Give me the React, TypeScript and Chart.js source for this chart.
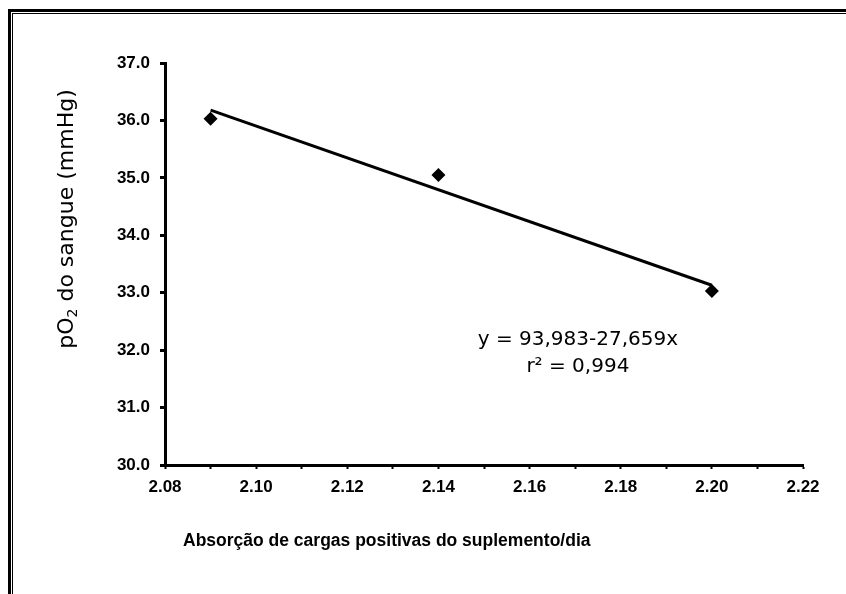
import { useEffect, useRef } from "react";
import { Chart, registerables } from "chart.js";

Chart.register(...registerables);

// ---- data ----
const absorption = [2.09, 2.14, 2.2];
const bloodPO2 = [36.03, 35.05, 33.03];
const trendX = [2.09, 2.2];
const trendY = [36.18, 33.13];

const xMin = 2.08;
const xMax = 2.22;
const xStep = 0.01;
const yMin = 30;
const yMax = 37;
const yStep = 1;

const yTitleParts = ["pO", "2", " do sangue (mmHg)"];
const xTitle = "Absorção de cargas positivas do suplemento/dia";
const equationLines = ["y = 93,983-27,659x", "r² = 0,994"];
const equationX = 2.1706;
const equationY = [32.09, 31.62];

const W = 846;
const H = 594;

const annotPlugin = {
  id: "annot",
  afterDraw(chart: any) {
    const { ctx, chartArea, scales } = chart;
    const xs = scales.x;
    const ys = scales.y;
    ctx.save();
    ctx.fillStyle = "#000";

    // regression equation
    ctx.font = "20px 'DejaVu Sans'";
    ctx.textAlign = "center";
    ctx.textBaseline = "alphabetic";
    const ex = xs.getPixelForValue(equationX);
    ctx.fillText(equationLines[0], ex, ys.getPixelForValue(equationY[0]));
    ctx.fillText(equationLines[1], ex, ys.getPixelForValue(equationY[1]));

    // x-axis title
    ctx.font = "bold 17.5px 'Liberation Sans'";
    ctx.textAlign = "left";
    ctx.fillText(xTitle, chartArea.left + 18, chartArea.bottom + 81);

    // y-axis title with subscript
    const mainFont = "22px 'DejaVu Sans'";
    const subFont = "14px 'DejaVu Sans'";
    ctx.font = mainFont;
    const w1 = ctx.measureText(yTitleParts[0]).width;
    const w3 = ctx.measureText(yTitleParts[2]).width;
    ctx.font = subFont;
    const w2 = ctx.measureText(yTitleParts[1]).width;
    const total = w1 + w2 + w3;
    ctx.translate(73, 219);
    ctx.rotate(-Math.PI / 2);
    let cx = -total / 2;
    ctx.font = mainFont;
    ctx.fillText(yTitleParts[0], cx, 0);
    cx += w1;
    ctx.font = subFont;
    ctx.fillText(yTitleParts[1], cx, 4);
    cx += w2;
    ctx.font = mainFont;
    ctx.fillText(yTitleParts[2], cx, 0);
    ctx.setTransform(1, 0, 0, 1, 0, 0);

    // frame (double line, top and left)
    ctx.fillRect(8, 9, 3, H - 9);
    ctx.fillRect(8, 9, W - 8, 3);
    ctx.fillRect(12, 13, 1, H - 13);
    ctx.fillRect(12, 13, W - 12, 1);
    ctx.restore();
  },
};

export default function App() {
  const ref = useRef<HTMLCanvasElement | null>(null);

  useEffect(() => {
    if (!ref.current) return;
    const tickFont = { family: "'Liberation Sans', Arial, sans-serif", size: 17, weight: "bold" as const };
    const chart = new Chart(ref.current, {
      type: "scatter",
      data: {
        datasets: [
          {
            label: "trend",
            data: trendX.map((x, i) => ({ x, y: trendY[i] })),
            showLine: true,
            borderColor: "#000",
            borderWidth: 3,
            pointRadius: 0,
            fill: false,
          },
          {
            label: "pO2",
            data: absorption.map((x, i) => ({ x, y: bloodPO2[i] })),
            showLine: false,
            pointStyle: "rectRot",
            pointRadius: 7,
            backgroundColor: "#000",
            borderColor: "#000",
            borderWidth: 0,
          },
        ],
      },
      options: {
        responsive: false,
        animation: false,
        devicePixelRatio: 1,
        layout: { padding: { left: 0, top: 63, right: 43, bottom: 0 } },
        plugins: { legend: { display: false }, tooltip: { enabled: false } },
        scales: {
          x: {
            type: "linear",
            min: xMin,
            max: xMax,
            afterFit: (s: any) => {
              s.height = 129;
            },
            grid: { drawOnChartArea: false, drawTicks: true, tickLength: 4, tickWidth: 2, tickColor: "#000" },
            border: { display: true, color: "#000", width: 3 },
            ticks: {
              stepSize: xStep,
              autoSkip: false,
              maxRotation: 0,
              padding: 8,
              color: "#000",
              font: tickFont,
              callback: (v: any, i: number) => (i % 2 === 0 ? Number(v).toFixed(2) : ""),
            },
          },
          y: {
            type: "linear",
            min: yMin,
            max: yMax,
            afterFit: (s: any) => {
              s.width = 165;
            },
            grid: { drawOnChartArea: false, drawTicks: true, tickLength: 5, tickWidth: 3, tickColor: "#000" },
            border: { display: true, color: "#000", width: 3 },
            ticks: {
              stepSize: yStep,
              padding: 10,
              color: "#000",
              font: tickFont,
              callback: (v: any) => Number(v).toFixed(1),
            },
          },
        },
      },
      plugins: [annotPlugin],
    });
    return () => chart.destroy();
  }, []);

  return (
    <div style={{ position: "absolute", left: 0, top: 0, width: W, height: H, background: "#fff" }}>
      <canvas ref={ref} width={W} height={H} style={{ display: "block" }} />
    </div>
  );
}
